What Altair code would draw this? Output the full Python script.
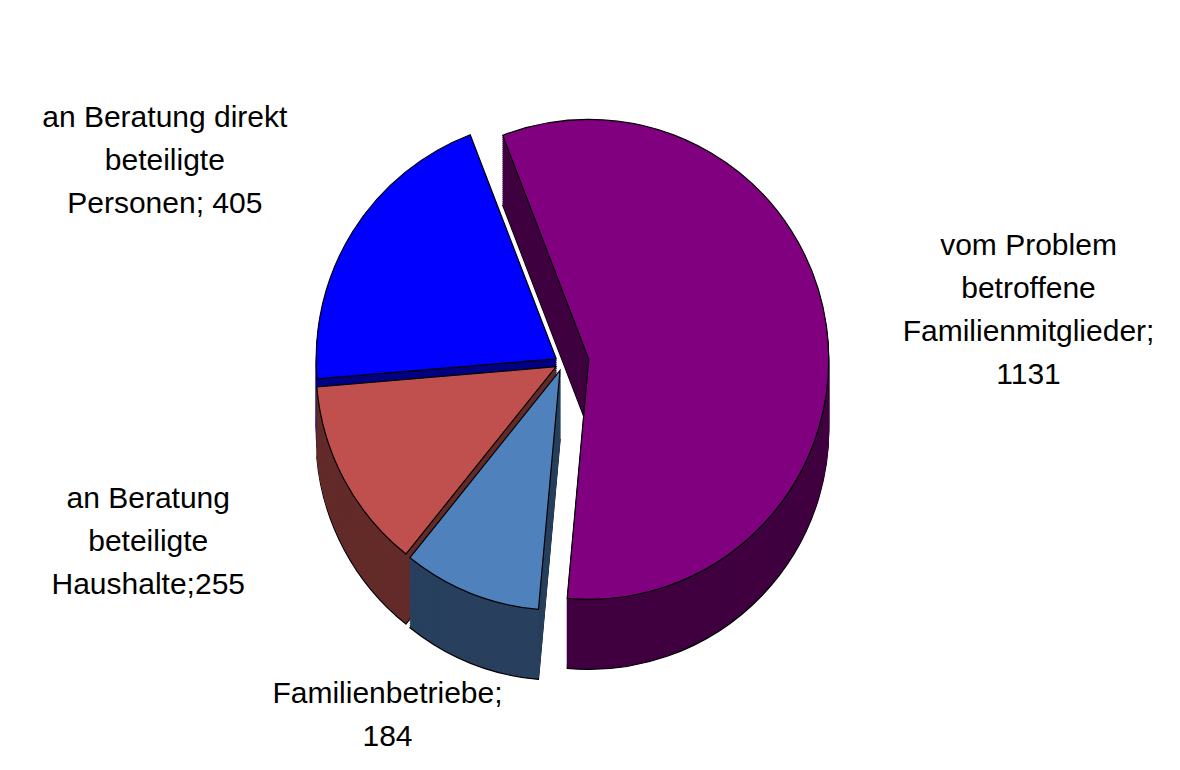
import math
import altair as alt
import pandas as pd

# ---- data ----
names = [
    "vom Problem betroffene Familienmitglieder",
    "Familienbetriebe",
    "an Beratung beteiligte Haushalte",
    "an Beratung direkt beteiligte Personen",
]
values = [1131, 184, 255, 405]
label_texts = [
    "vom Problem\nbetroffene\nFamilienmitglieder;\n1131",
    "Familienbetriebe;\n184",
    "an Beratung\nbeteiligte\nHaushalte;255",
    "an Beratung direkt\nbeteiligte\nPersonen; 405",
]
top_colors = ["#800080", "#4F81BD", "#C0504D", "#0000FF"]
side_colors = ["#400040", "#28405E", "#632B29", "#000080"]

df = pd.DataFrame({
    "idx": list(range(len(names))),
    "name": names,
    "value": values,
    "label": label_texts,
})

# ---- layout / style ----
W, H = 1164, 754
CX, CY = 555, 355
R = 240
DEPTH, STEP = 70, 2
START = math.radians(339)
EXPLODE_MAIN, EXPLODE_SMALL = 26, 8
LX, LY = 470, 380
LH = 43
TOTAL = sum(values)

theta_scale = alt.Scale(domain=[0, TOTAL], range=[START, START + 2 * math.pi])
top_scale = alt.Scale(domain=names, range=top_colors)
side_scale = alt.Scale(domain=names, range=side_colors)

base = (
    alt.Chart(df)
    .transform_joinaggregate(total="sum(value)")
    .transform_window(cum="sum(value)", sort=[alt.SortField("idx")], frame=[None, 0])
    .transform_calculate(c0="datum.cum - datum.value")
    .transform_calculate(mid=f"{START} + 2*PI*(datum.cum - datum.value/2)/datum.total")
    .transform_calculate(ex=f"datum.idx == 0 ? {EXPLODE_MAIN} : {EXPLODE_SMALL}")
    .transform_calculate(cx=f"{CX} + datum.ex*sin(datum.mid)")
    .transform_calculate(cy=f"{CY} - datum.ex*cos(datum.mid)")
    .transform_calculate(nl="split(datum.label, '\\n').length")
    .transform_calculate(lx=f"{CX} + {LX}*sin(datum.mid)")
    .transform_calculate(ly=f"{CY} - {LY}*cos(datum.mid) - (datum.nl - 1)*{LH}/2")
)

common = dict(
    x=alt.X("cx:Q", scale=None, axis=None),
    y=alt.Y("cy:Q", scale=None, axis=None),
    theta=alt.Theta("c0:Q", scale=theta_scale),
    theta2="cum:Q",
)

layers = []
# extruded side
for k in range(DEPTH, 0, -STEP):
    if k == DEPTH:
        mk = base.mark_arc(outerRadius=R, yOffset=k, stroke="black", strokeWidth=1.2)
        enc = dict(common, color=alt.Color("name:N", scale=side_scale, legend=None))
    else:
        mk = base.mark_arc(outerRadius=R, yOffset=k, strokeWidth=1)
        enc = dict(common,
                   color=alt.Color("name:N", scale=side_scale, legend=None),
                   stroke=alt.Stroke("name:N", scale=side_scale, legend=None))
    layers.append(mk.encode(**enc))

# top face
layers.append(
    base.mark_arc(outerRadius=R, stroke="black", strokeWidth=1.2).encode(
        **common, color=alt.Color("name:N", scale=top_scale, legend=None)
    )
)

# labels
layers.append(
    base.mark_text(
        font="Liberation Sans", fontSize=30, lineHeight=LH, lineBreak="\n",
        align="center", baseline="middle", color="black",
    ).encode(
        x=alt.X("lx:Q", scale=None, axis=None),
        y=alt.Y("ly:Q", scale=None, axis=None),
        text="label:N",
    )
)

chart = (
    alt.layer(*layers)
    .resolve_scale(color="independent", stroke="independent")
    .properties(
        width=W, height=H, padding=0,
        autosize=alt.AutoSizeParams(type="fit", contains="padding"),
        background="white",
    )
    .configure_view(stroke=None)
)

chart.save("out.html", embed_options={"renderer": "svg", "actions": False})
